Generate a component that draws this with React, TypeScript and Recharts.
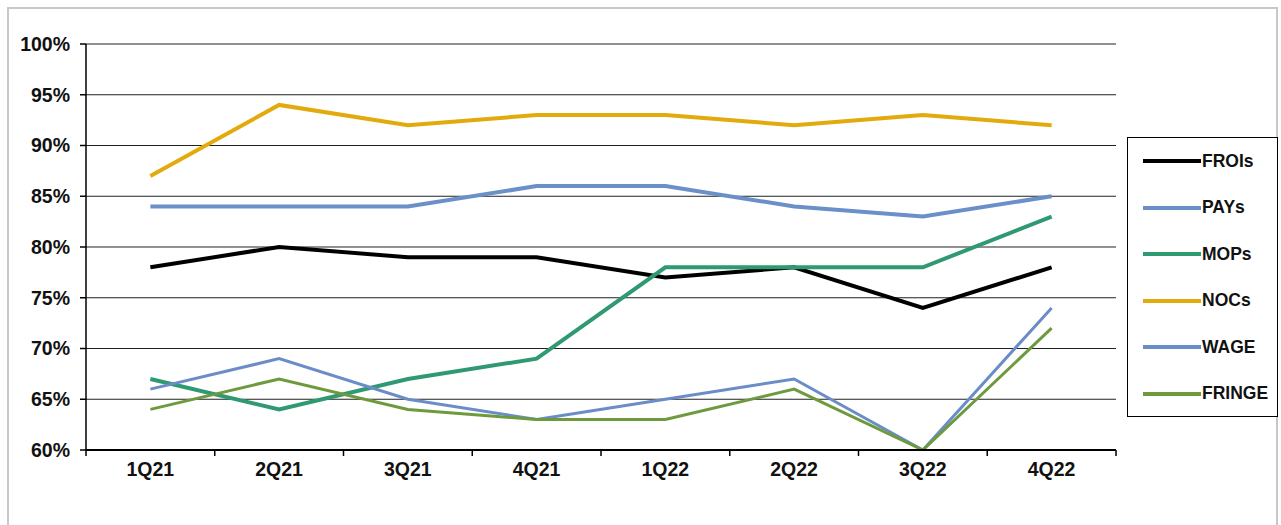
import React from "react";
import { LineChart, Line, XAxis, YAxis, CartesianGrid, Legend } from "recharts";

const quarters = ["1Q21", "2Q21", "3Q21", "4Q21", "1Q22", "2Q22", "3Q22", "4Q22"];
const froi = [78, 80, 79, 79, 77, 78, 74, 78];
const pays = [84, 84, 84, 86, 86, 84, 83, 85];
const mops = [67, 64, 67, 69, 78, 78, 78, 83];
const nocs = [87, 94, 92, 93, 93, 92, 93, 92];
const wage = [66, 69, 65, 63, 65, 67, 60, 74];
const fringe = [64, 67, 64, 63, 63, 66, 60, 72];
const yTicks = [60, 65, 70, 75, 80, 85, 90, 95, 100];
const seriesNames = ["FROIs", "PAYs", "MOPs", "NOCs", "WAGE", "FRINGE"];

const data = quarters.map((q, i) => ({
  q,
  FROIs: froi[i],
  PAYs: pays[i],
  MOPs: mops[i],
  NOCs: nocs[i],
  WAGE: wage[i],
  FRINGE: fringe[i],
}));

const W = 1281;
const H = 525;
const M = { top: 44, right: 165, bottom: 45, left: 0 };
const Y_W = 86;
const PLOT_W = W - M.left - Y_W - M.right;
const HALF = PLOT_W / quarters.length / 2;
const FONT = "'Liberation Sans', Arial, sans-serif";

const XTick = (props: any) => {
  const { x, y, payload, index } = props;
  const last = index === quarters.length - 1;
  return (
    <g>
      <line x1={x - HALF} x2={x - HALF} y1={y} y2={y + 6} stroke="#000" strokeWidth={1.5} />
      {last && <line x1={x + HALF} x2={x + HALF} y1={y} y2={y + 6} stroke="#000" strokeWidth={1.5} />}
      <text x={x} y={y + 26} textAnchor="middle" fontFamily={FONT} fontWeight="bold" fontSize={19.5} fill="#111">
        {payload.value}
      </text>
    </g>
  );
};

const LegendBox = (props: any) => {
  const items = props.payload || [];
  const ordered = seriesNames.map((n) => items.find((it: any) => it.value === n)).filter(Boolean);
  return (
    <div
      style={{
        width: 151,
        height: 280,
        border: "1.5px solid #000",
        background: "#fff",
        boxSizing: "border-box",
        paddingTop: 0,
      }}
    >
      {ordered.map((it: any) => (
        <div key={it.value} style={{ display: "flex", alignItems: "center", height: 46.5 }}>
          <div style={{ width: 58, height: 4, background: it.color, marginLeft: 15 }} />
          <span style={{ fontFamily: FONT, fontWeight: "bold", fontSize: 17.5, color: "#111", marginLeft: 1 }}>
            {it.value}
          </span>
        </div>
      ))}
    </div>
  );
};

export default function App() {
  return (
    <div style={{ position: "absolute", left: 0, top: 0, width: W, height: H, background: "#fff" }}>
      <div
        style={{
          position: "absolute",
          left: 7,
          top: 7,
          width: 1271,
          height: 520,
          border: "2px solid #c8c8c8",
          boxSizing: "border-box",
        }}
      />
      <div style={{ position: "absolute", left: 0, top: 0 }}>
        <LineChart width={W} height={H} data={data} margin={M}>
          <CartesianGrid vertical={false} stroke="#222" strokeWidth={1.2} />
          <XAxis
            dataKey="q"
            padding={{ left: HALF, right: HALF }}
            tickLine={false}
            tickSize={0}
            tickMargin={0}
            axisLine={{ stroke: "#000", strokeWidth: 2 }}
            tick={<XTick />}
            interval={0}
            height={30}
          />
          <YAxis
            domain={[60, 100]}
            ticks={yTicks}
            width={Y_W}
            tickFormatter={(v: number) => `${v}%`}
            tickSize={6}
            tickMargin={10}
            axisLine={{ stroke: "#000", strokeWidth: 1.5 }}
            tickLine={{ stroke: "#000", strokeWidth: 1.5 }}
            tick={{ fontFamily: FONT, fontWeight: "bold", fontSize: 19.5, fill: "#111" }}
            allowDataOverflow
          />
          <YAxis yAxisId="r" orientation="right" domain={[0, 1]} width={0} tick={false} tickLine={false} axisLine={{ stroke: "#444", strokeWidth: 1.5 }} />
          <Legend
            layout="vertical"
            align="center"
            verticalAlign="middle"
            content={<LegendBox />}
            wrapperStyle={{ left: 1127, top: 137, width: 151, height: 280 }}
          />
          <Line dataKey="FROIs" stroke="#000000" strokeWidth={4} dot={false} isAnimationActive={false} />
          <Line dataKey="PAYs" stroke="#6b8fc8" strokeWidth={4} dot={false} isAnimationActive={false} />
          <Line dataKey="MOPs" stroke="#2f9a72" strokeWidth={4} dot={false} isAnimationActive={false} />
          <Line dataKey="NOCs" stroke="#e2aa0c" strokeWidth={4} dot={false} isAnimationActive={false} />
          <Line dataKey="WAGE" stroke="#6a8dc8" strokeWidth={3} dot={false} isAnimationActive={false} />
          <Line dataKey="FRINGE" stroke="#6e9a3e" strokeWidth={3} dot={false} isAnimationActive={false} />
        </LineChart>
      </div>
    </div>
  );
}
